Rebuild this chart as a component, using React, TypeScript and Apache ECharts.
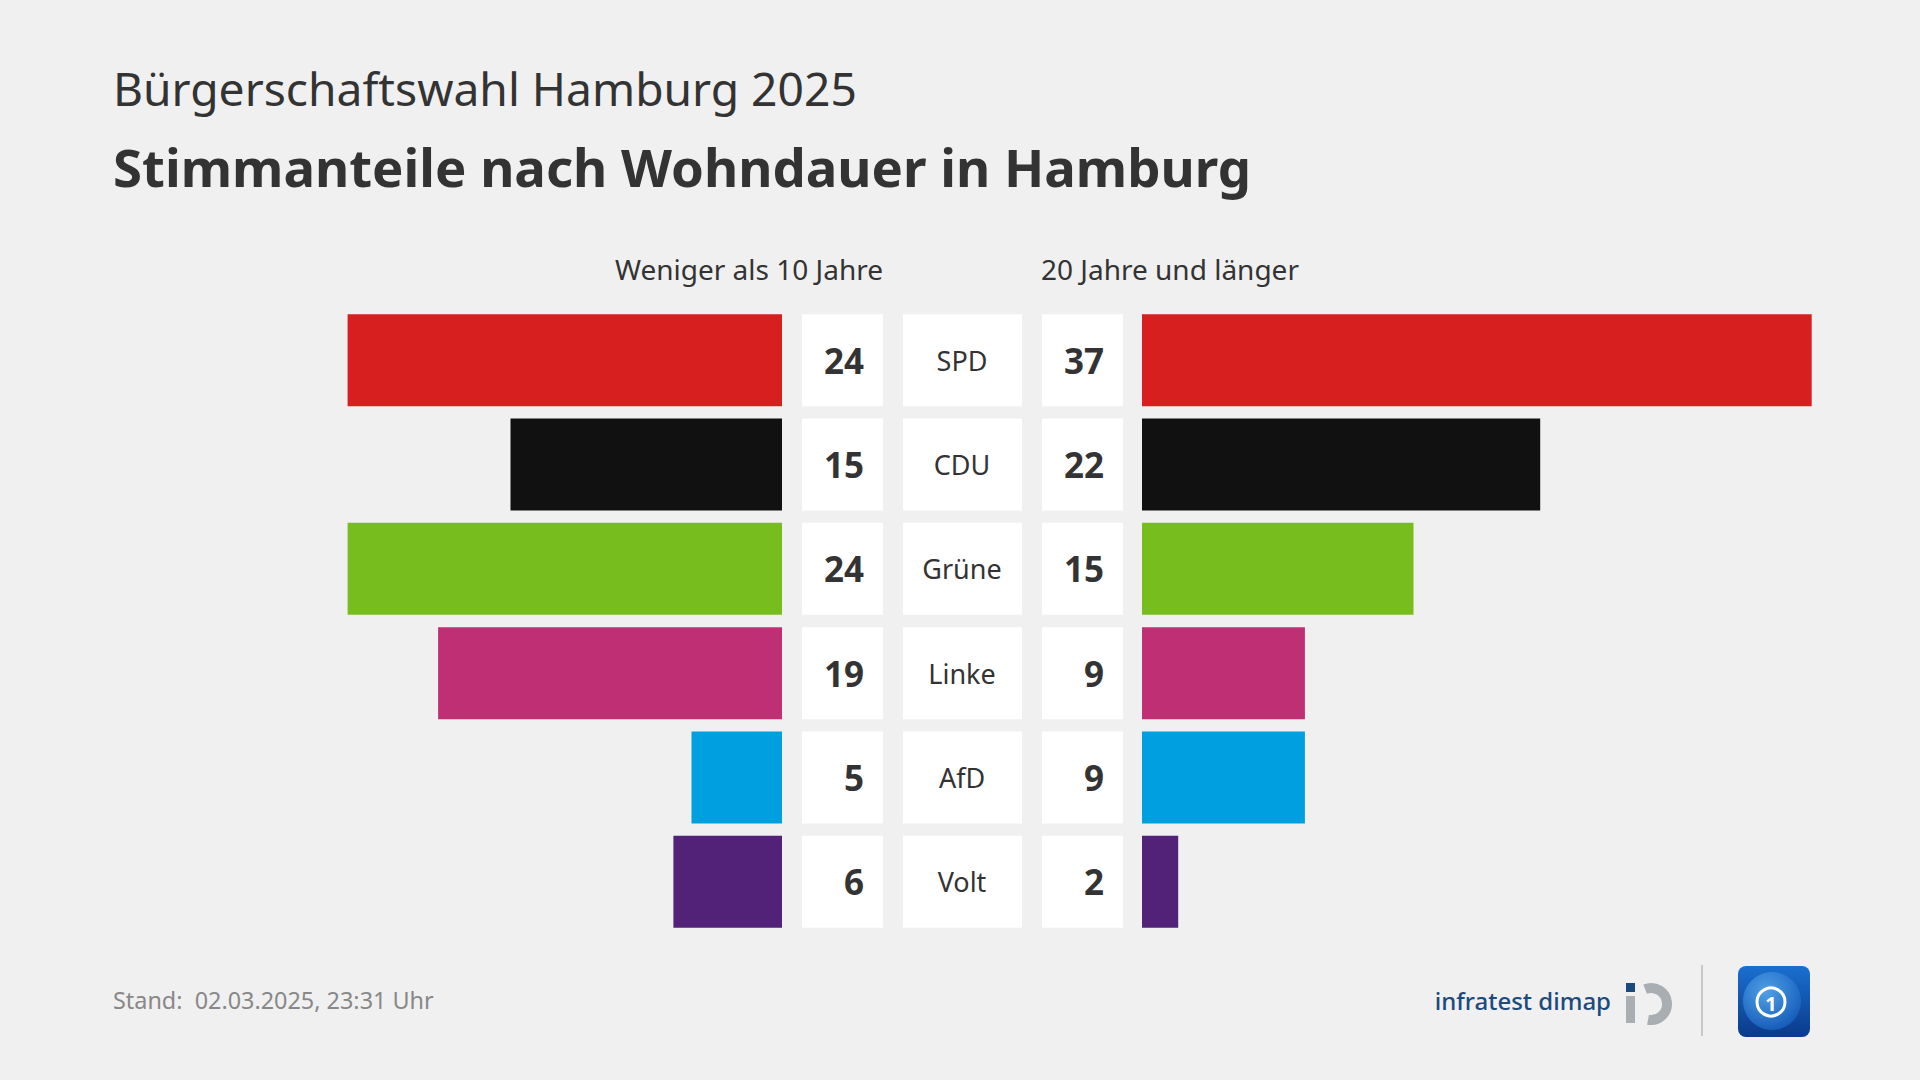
import React, { useEffect, useRef } from "react";
import * as echarts from "echarts";

const categories = ["SPD", "CDU", "Grüne", "Linke", "AfD", "Volt"];
const shortResidence = [24, 15, 24, 19, 5, 6];
const longResidence = [37, 22, 15, 9, 9, 2];
const partyColors = ["#d71f1f", "#111111", "#78bd1e", "#be2f73", "#009fe0", "#512277"];
const groupLabels = ["Weniger als 10 Jahre", "20 Jahre und länger"];
const titleText = "Stimmanteile nach Wohndauer in Hamburg";
const subtitleText = "Bürgerschaftswahl Hamburg 2025";
const footerText = "Stand:  02.03.2025, 23:31 Uhr";

const FONT = '"Noto Sans", sans-serif';

export default function App() {
  const ref = useRef<HTMLDivElement>(null);

  useEffect(() => {
    if (!ref.current) return;
    const chart = echarts.init(ref.current, null, { renderer: "svg" });

    const axisOff = {
      axisLine: { show: false },
      axisTick: { show: false },
      axisLabel: { show: false },
      splitLine: { show: false },
    };

    const option: any = {
      animation: false,
      backgroundColor: "#f0f0f0",
      grid: [
        { left: 58, right: 1138, top: 308, bottom: 146 },
        { left: 1142, right: 54, top: 308, bottom: 146 },
      ],
      xAxis: [
        { type: "value", gridIndex: 0, min: 0, max: 40, inverse: true, ...axisOff },
        { type: "value", gridIndex: 1, min: 0, max: 40, ...axisOff },
      ],
      yAxis: [
        { type: "category", gridIndex: 0, data: categories, inverse: true, ...axisOff },
        { type: "category", gridIndex: 1, data: categories, inverse: true, ...axisOff },
      ],
      series: [
        {
          type: "bar",
          xAxisIndex: 0,
          yAxisIndex: 0,
          barWidth: 92,
          data: shortResidence.map((v, i) => ({ value: v, itemStyle: { color: partyColors[i] } })),
        },
        {
          type: "bar",
          xAxisIndex: 1,
          yAxisIndex: 1,
          barWidth: 92,
          data: longResidence.map((v, i) => ({ value: v, itemStyle: { color: partyColors[i] } })),
        },
        {
          type: "custom",
          xAxisIndex: 0,
          yAxisIndex: 0,
          data: categories.map((_, i) => [0, i]),
          renderItem: (params: any, api: any) => {
            const i = params.dataIndex;
            const c = api.coord([0, i]);
            const h = api.size([0, 1])[1] * 0.882;
            const y0 = c[1] - h / 2;
            const x0 = c[0];
            const box = (x: number, w: number) => ({
              type: "rect",
              shape: { x: x0 + x, y: y0, width: w, height: h },
              style: { fill: "#ffffff" },
            });
            const txt = (x: number, t: string, align: string, bold: boolean, size: number) => ({
              type: "text",
              x: x0 + x,
              y: c[1],
              style: {
                text: t,
                align,
                verticalAlign: "middle",
                fill: "#333333",
                fontFamily: FONT,
                fontWeight: bold ? "bold" : "normal",
                fontSize: size,
              },
            });
            return {
              type: "group",
              children: [
                box(20, 81),
                box(121, 119),
                box(260, 81),
                txt(82, String(shortResidence[i]), "right", true, 35),
                txt(180, categories[i], "center", false, 27),
                txt(322, String(longResidence[i]), "right", true, 35),
              ],
            };
          },
        },
      ],
      graphic: [
        {
          type: "text",
          left: 113,
          top: 65,
          style: { text: subtitleText, fontFamily: FONT, fontSize: 46.2, fill: "#333333" },
        },
        {
          type: "text",
          left: 113,
          top: 140,
          style: { text: titleText, fontFamily: FONT, fontSize: 52.7, fontWeight: "bold", fill: "#333333" },
        },
        {
          type: "text",
          x: 883,
          y: 269,
          style: {
            text: groupLabels[0],
            align: "right",
            verticalAlign: "middle",
            fontFamily: FONT,
            fontSize: 28,
            fill: "#333333",
          },
        },
        {
          type: "text",
          x: 1041,
          y: 269,
          style: {
            text: groupLabels[1],
            align: "left",
            verticalAlign: "middle",
            fontFamily: FONT,
            fontSize: 28,
            fill: "#333333",
          },
        },
        {
          type: "text",
          x: 113,
          y: 1000,
          style: {
            text: footerText,
            verticalAlign: "middle",
            fontFamily: FONT,
            fontSize: 23.4,
            fill: "#888888",
          },
        },
        {
          type: "text",
          x: 1611,
          y: 1000,
          style: {
            text: "infratest dimap",
            align: "right",
            verticalAlign: "middle",
            fontFamily: FONT,
            fontSize: 24,
            fontWeight: 500,
            fill: "#1b4a7d",
          },
        },
        // infratest dimap icon
        { type: "rect", shape: { x: 1626, y: 983, width: 9, height: 9 }, style: { fill: "#1b4a7d" } },
        { type: "rect", shape: { x: 1626, y: 996, width: 9, height: 27 }, style: { fill: "#a9aeb3" } },
        {
          type: "arc",
          shape: {
            cx: 1651,
            cy: 1004,
            r: 16,
            startAngle: -Math.PI * 0.62,
            endAngle: Math.PI * 0.56,
          },
          style: { stroke: "#a9aeb3", lineWidth: 10, fill: "none" },
        },
        {
          type: "line",
          shape: { x1: 1702, y1: 965, x2: 1702, y2: 1036 },
          style: { stroke: "#c8c8c8", lineWidth: 2 },
        },
        // tagesschau icon
        {
          type: "rect",
          shape: { x: 1738, y: 966, width: 72, height: 71, r: 8 },
          style: {
            fill: new echarts.graphic.LinearGradient(0, 0, 0, 1, [
              { offset: 0, color: "#1a6fd0" },
              { offset: 1, color: "#0b3a8a" },
            ]),
          },
        },
        {
          type: "circle",
          shape: { cx: 1772, cy: 1001, r: 29 },
          style: {
            fill: new echarts.graphic.RadialGradient(0.4, 0.35, 0.7, [
              { offset: 0, color: "#5fb0f0" },
              { offset: 1, color: "#1560c0" },
            ]),
            opacity: 0.8,
          },
        },
        {
          type: "circle",
          shape: { cx: 1771, cy: 1002, r: 14 },
          style: { fill: "none", stroke: "#ffffff", lineWidth: 3 },
        },
        {
          type: "text",
          x: 1771,
          y: 1003,
          style: {
            text: "1",
            align: "center",
            verticalAlign: "middle",
            fontFamily: FONT,
            fontWeight: "bold",
            fontSize: 20,
            fill: "#ffffff",
          },
        },
      ],
    };

    chart.setOption(option);
    return () => chart.dispose();
  }, []);

  return (
    <div
      ref={ref}
      style={{ position: "absolute", left: 0, top: 0, width: 1920, height: 1080 }}
    />
  );
}
